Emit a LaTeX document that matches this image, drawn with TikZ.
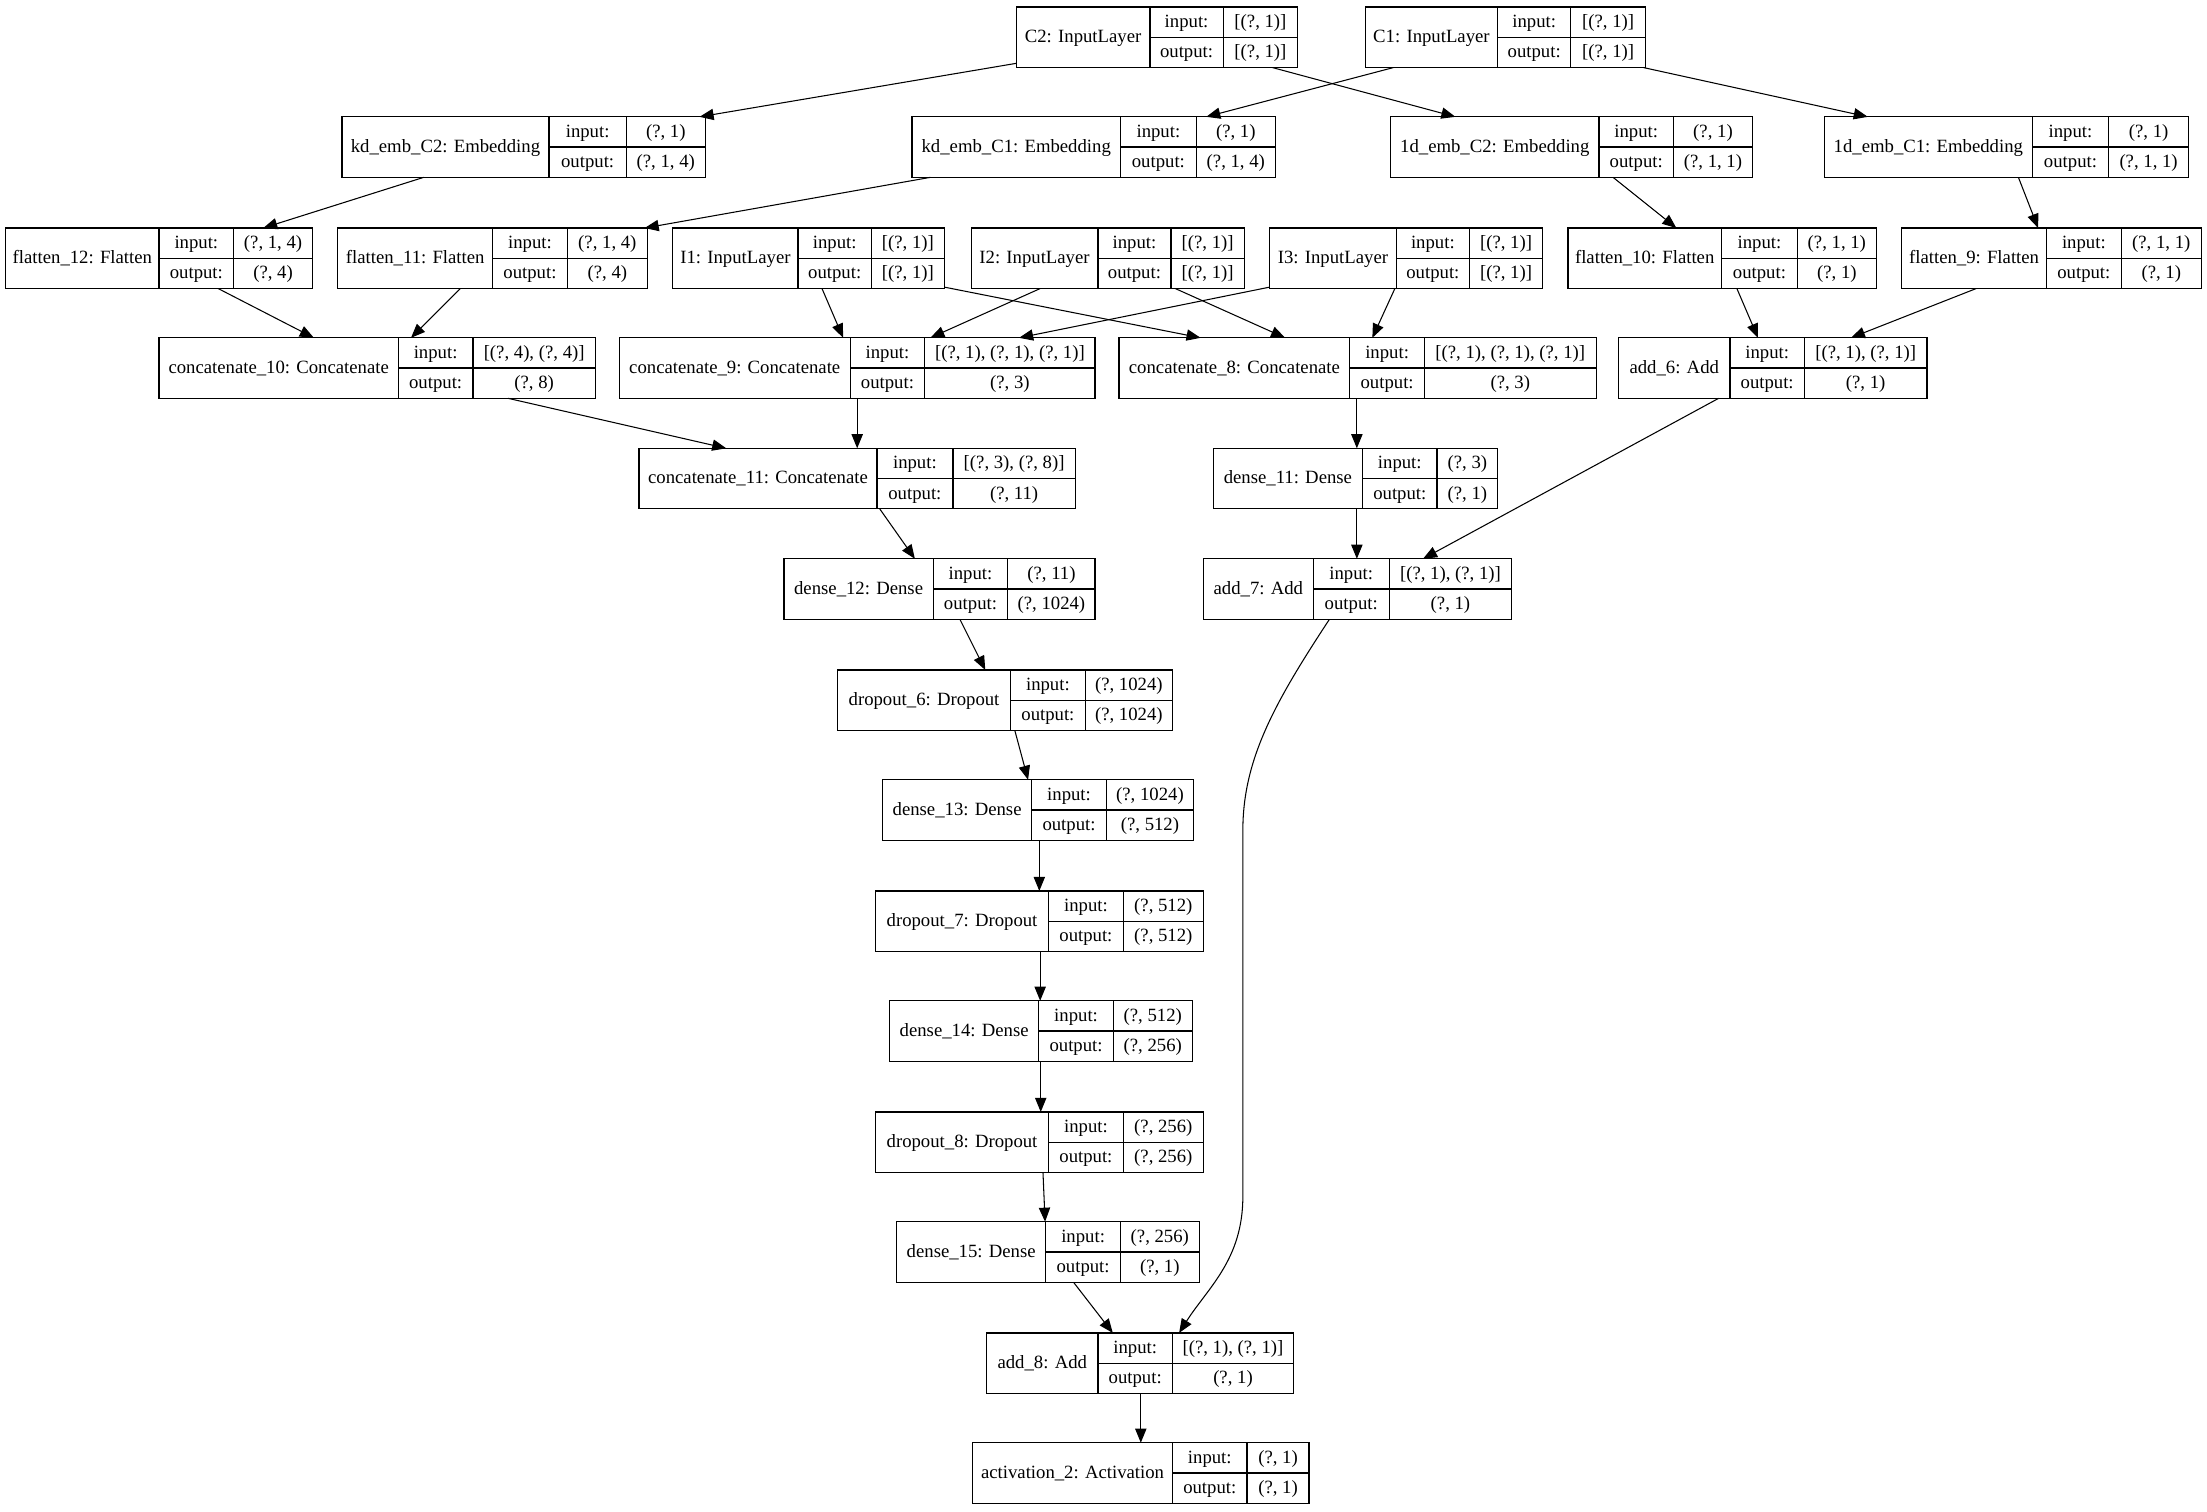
\documentclass[tikz,border=0pt]{standalone}
\usepackage{fontspec}
\setmainfont{Liberation Serif}
\usetikzlibrary{arrows.meta}
\tikzset{
  recbox/.style={draw, line width=0.9pt, rectangle, inner sep=0pt, outer sep=0pt, minimum height=43pt, anchor=north west},
  sepline/.style={line width=0.9pt},
  txt/.style={inner sep=0pt, text height=10pt, text depth=2.4pt, font=\fontsize{13.3}{16}\selectfont},
  arr/.style={line width=0.75pt, -{Triangle[length=10pt,width=8pt]}},
}
% #1 name, #2 left, #3 split1, #4 split2, #5 right, #6 top, #7 title, #8 input, #9 output
\newcommand\lyr[9]{%
  \node[recbox, minimum width={#5pt-#2pt}] (#1) at (#2,#6) {};
  \draw[sepline] (#3,#6) -- (#3,#6+43);
  \draw[sepline] (#4,#6) -- (#4,#6+43);
  \draw[sepline] (#3,#6+21.5) -- (#5,#6+21.5);
  \node[txt] (#1-name) at ({(#2+#3)/2},{#6+21.5}) {#7};
  \node[txt] (#1-inl) at ({(#3+#4)/2},{#6+10.75}) {input:};
  \node[txt] (#1-outl) at ({(#3+#4)/2},{#6+32.25}) {output:};
  \node[txt] (#1-inv) at ({(#4+#5)/2},{#6+10.75}) {#8};
  \node[txt] (#1-outv) at ({(#4+#5)/2},{#6+32.25}) {#9};
}
% #1 source, #2 x offset from source left, #3 target, #4 x offset from target left
\newcommand\conn[4]{\draw[arr] ([xshift=#2pt]#1.south west) -- ([xshift=#4pt]#3.north west);}
\begin{document}
\begin{tikzpicture}[x=1pt,y=-1pt]
\fill[white] (0,0) rectangle (1568,1074);
\useasboundingbox (0,0) rectangle (1568,1074);

\lyr{c2}{722}{817}{869}{922}{5}{C2: InputLayer}{[(?, 1)]}{[(?, 1)]}
\lyr{c1}{970}{1064}{1116}{1169}{5}{C1: InputLayer}{[(?, 1)]}{[(?, 1)]}
\lyr{kdc2}{243}{390}{445}{501}{83}{kd\_emb\_C2: Embedding}{(?, 1)}{(?, 1, 4)}
\lyr{kdc1}{648}{796}{850}{906}{83}{kd\_emb\_C1: Embedding}{(?, 1)}{(?, 1, 4)}
\lyr{odc2}{988}{1136}{1189}{1245}{83}{1d\_emb\_C2: Embedding}{(?, 1)}{(?, 1, 1)}
\lyr{odc1}{1296}{1444}{1498}{1555}{83}{1d\_emb\_C1: Embedding}{(?, 1)}{(?, 1, 1)}
\lyr{fl12}{4}{113}{166}{222}{162}{flatten\_12: Flatten}{(?, 1, 4)}{(?, 4)}
\lyr{fl11}{240}{350}{403}{460}{162}{flatten\_11: Flatten}{(?, 1, 4)}{(?, 4)}
\lyr{i1}{478}{567}{619}{671}{162}{I1: InputLayer}{[(?, 1)]}{[(?, 1)]}
\lyr{i2}{690}{780}{832}{884}{162}{I2: InputLayer}{[(?, 1)]}{[(?, 1)]}
\lyr{i3}{902}{992}{1044}{1096}{162}{I3: InputLayer}{[(?, 1)]}{[(?, 1)]}
\lyr{fl10}{1114}{1223}{1277}{1333}{162}{flatten\_10: Flatten}{(?, 1, 1)}{(?, 1)}
\lyr{fl9}{1351}{1454}{1507}{1564}{162}{flatten\_9: Flatten}{(?, 1, 1)}{(?, 1)}
\lyr{cc10}{113}{283}{336}{423}{240}{concatenate\_10: Concatenate}{[(?, 4), (?, 4)]}{(?, 8)}
\lyr{cc9}{440}{604}{657}{778}{240}{concatenate\_9: Concatenate}{[(?, 1), (?, 1), (?, 1)]}{(?, 3)}
\lyr{cc8}{795}{959}{1012}{1134}{240}{concatenate\_8: Concatenate}{[(?, 1), (?, 1), (?, 1)]}{(?, 3)}
\lyr{add6}{1150}{1229}{1282}{1369}{240}{add\_6: Add}{[(?, 1), (?, 1)]}{(?, 1)}
\lyr{cc11}{454}{623}{677}{764}{318.5}{concatenate\_11: Concatenate}{[(?, 3), (?, 8)]}{(?, 11)}
\lyr{d11}{862}{968}{1021}{1064}{318.5}{dense\_11: Dense}{(?, 3)}{(?, 1)}
\lyr{d12}{557}{663}{716}{778}{397}{dense\_12: Dense}{(?, 11)}{(?, 1024)}
\lyr{add7}{855}{933}{987}{1074}{397}{add\_7: Add}{[(?, 1), (?, 1)]}{(?, 1)}
\lyr{do6}{595}{718}{771}{833}{476}{dropout\_6: Dropout}{(?, 1024)}{(?, 1024)}
\lyr{d13}{627}{733}{786}{848}{554}{dense\_13: Dense}{(?, 1024)}{(?, 512)}
\lyr{do7}{622}{745}{798}{855}{633}{dropout\_7: Dropout}{(?, 512)}{(?, 512)}
\lyr{d14}{632}{738}{791}{847}{711}{dense\_14: Dense}{(?, 512)}{(?, 256)}
\lyr{do8}{622}{745}{798}{855}{790}{dropout\_8: Dropout}{(?, 256)}{(?, 256)}
\lyr{d15}{637}{743}{796}{852}{868}{dense\_15: Dense}{(?, 256)}{(?, 1)}
\lyr{add8}{701}{780}{833}{919}{947}{add\_8: Add}{[(?, 1), (?, 1)]}{(?, 1)}
\lyr{act2}{691}{833}{886}{930}{1025}{activation\_2: Activation}{(?, 1)}{(?, 1)}

% connectors
\draw[arr] ([yshift=3pt]c2.south west) -- ([xshift=254pt]kdc2.north west);
\conn{c2}{182}{odc2}{46}
\conn{c1}{20}{kdc1}{209}
\conn{c1}{197.6}{odc1}{31}
\conn{kdc2}{58}{fl12}{183}
\conn{kdc1}{13}{fl11}{218}
\conn{odc2}{158}{fl10}{77}
\conn{odc1}{138}{fl9}{97}
\conn{fl12}{151}{cc10}{110}
\conn{fl11}{87}{cc10}{179}
\conn{i1}{106}{cc9}{159}
\draw[arr] ([yshift=1pt]i1.south east) -- ([xshift=58pt]cc8.north west);
\conn{i2}{49}{cc9}{221}
\conn{i2}{145}{cc8}{118}
\draw[arr] ([yshift=1pt]i3.south west) -- ([xshift=284pt]cc9.north west);
\conn{i3}{89}{cc8}{180}
\conn{fl10}{120}{add6}{99}
\conn{fl9}{53}{add6}{165}
\conn{cc10}{248}{cc11}{62}
\conn{cc9}{169}{cc11}{155}
\conn{cc8}{169}{d11}{102}
\conn{add6}{71}{add7}{156}
\conn{cc11}{171}{d12}{93}
\conn{d11}{102}{add7}{109}
\conn{d12}{125}{do6}{105}
\conn{do6}{126}{d13}{103.4}
\conn{d13}{111.4}{do7}{116.4}
\conn{do7}{117}{d14}{107}
\conn{d14}{107.4}{do8}{117.4}
\conn{do8}{119}{d15}{105.5}
\conn{d15}{125.7}{add8}{89.6}
\draw[arr] ([xshift=89.5pt]add7.south west) .. controls (905,500) and (883,540) .. (883,590) -- (883,850) .. controls (883,895) and (858,915) .. ([xshift=136.7pt]add8.north west);
\conn{add8}{109.5}{act2}{119.5}
\end{tikzpicture}
\end{document}
